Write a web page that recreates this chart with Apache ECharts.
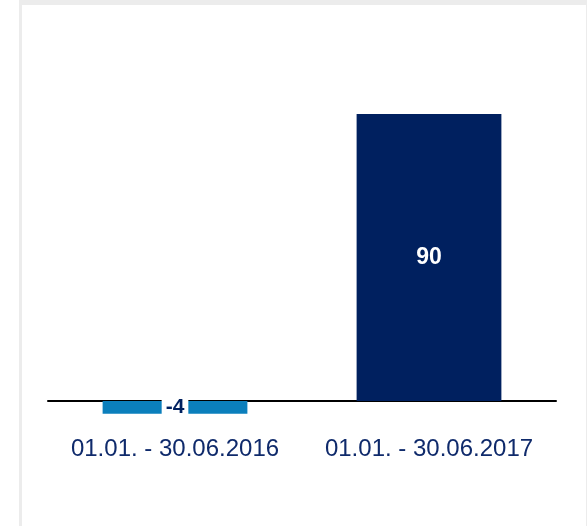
<!DOCTYPE html>
<html>
<head>
    <meta charset="utf-8">
    <title>Chart</title>
    <script src="https://cdn.jsdelivr.net/npm/echarts@6/dist/echarts.min.js"></script>
    <style>
        * {
            margin: 0;
            padding: 0
        }

        html, body {
            width: 587px;
            height: 526px;
            background: #fff;
            overflow: hidden;
        }

        /*灰色边框*/
        #frame {
            position: absolute;
            left: 19px;
            top: 0;
            width: 564px;
            height: 521px;
            border-left: 3px solid #ececec;
            border-top: 5px solid #ececec;
            border-right: 1px solid #ececec;
        }

        #main {
            position: absolute;
            left: 0;
            top: 0;
            width: 587px;
            height: 526px;
        }
    </style>
</head>
<body>
<div id="frame"></div>
<div id="main"></div>

<script type="text/javascript">
    var categories = ['01.01. - 30.06.2016', '01.01. - 30.06.2017'];
    var values = [-4, 90];
    var barColors = ['#0b7fbc', '#00205f'];

    var seriesData = values.map(function (v, i) {
        var item = {
            value: v,
            itemStyle: {color: barColors[i]}
        };
        if (v < 0) {
            // 负值标签，白底压在柱子上
            item.label = {
                color: '#00205f',
                fontSize: 21,
                backgroundColor: '#fff',
                padding: [1, 4, 0, 4]
            };
        }
        return item;
    });

    var myChart = echarts.init(document.getElementById('main'));
    myChart.setOption({
        animation: false,
        grid: {
            left: 48,
            right: 31,
            top: 114,
            bottom: 125
        },
        xAxis: {
            type: 'category',
            data: categories,
            axisLine: {
                lineStyle: {color: '#000', width: 2}
            },
            axisTick: {show: false},
            axisLabel: {
                interval: 0,
                color: '#0f2a6b',
                fontSize: 24,
                fontFamily: 'Arial, sans-serif',
                margin: 36
            }
        },
        yAxis: {
            type: 'value',
            min: 0,
            max: 90,
            show: false,
            splitLine: {show: false}
        },
        series: [
            {
                type: 'bar',
                barWidth: '57%',
                clip: false,
                data: seriesData,
                label: {
                    show: true,
                    position: 'inside',
                    color: '#fff',
                    fontSize: 23,
                    fontWeight: 'bold',
                    fontFamily: 'Arial, sans-serif'
                }
            }
        ]
    });
</script>
</body>
</html>
